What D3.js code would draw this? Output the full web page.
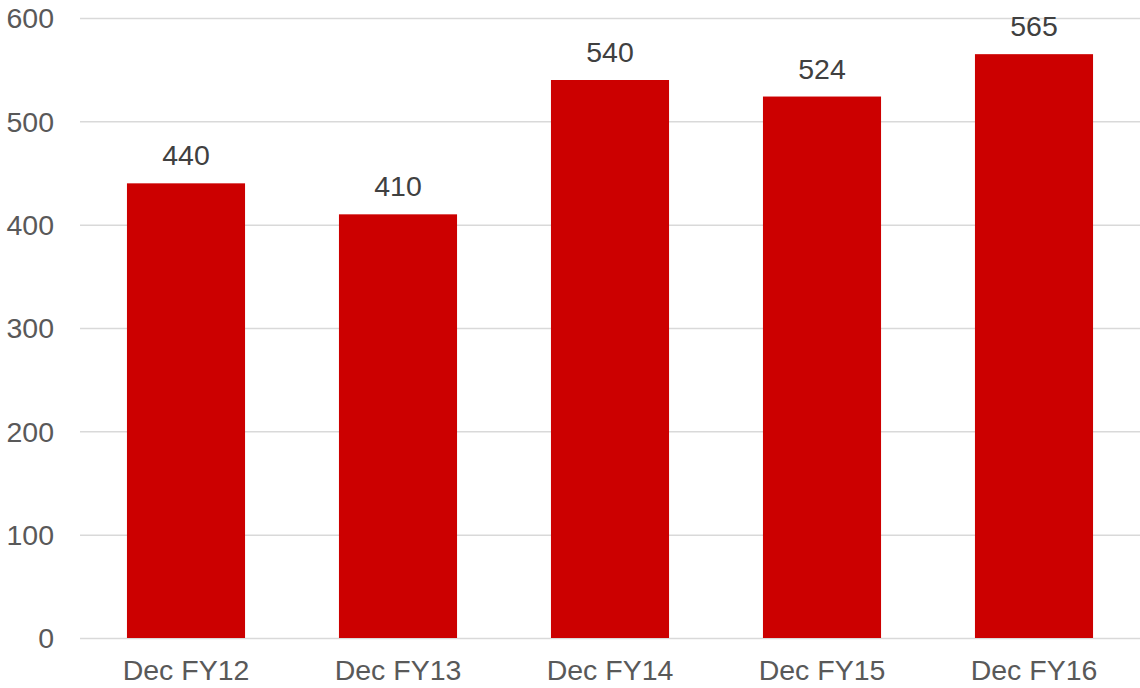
<!DOCTYPE html>
<html>
<head>
<meta charset="utf-8">
<script src="https://cdn.jsdelivr.net/npm/d3@7"></script>
<style>
  body { margin: 0; background: #fff; }
  text { font-family: "Liberation Sans", Arial, sans-serif; }
</style>
</head>
<body>
<div id="chart"></div>
<script>
// data
var categories = ["Dec FY12", "Dec FY13", "Dec FY14", "Dec FY15", "Dec FY16"];
var values = [440, 410, 540, 524, 565];
var yTicks = [0, 100, 200, 300, 400, 500, 600];

// set the dimensions and margins of the graph
var margin = {top: 18, right: 0, bottom: 50, left: 80},
    width = 1140 - margin.left - margin.right,
    height = 688 - margin.top - margin.bottom;

var svG = d3.select("#chart")
  .append("svg")
    .attr("width", width + margin.left + margin.right)
    .attr("height", height + margin.top + margin.bottom)
  .append("g")
    .attr("transform", "translate(" + margin.left + "," + margin.top + ")");

var xScale = d3.scaleBand()
    .domain(categories)
    .range([0, width])
    .paddingInner(0.443)
    .paddingOuter(0.2215);

var yScale = d3.scaleLinear()
    .domain([0, 600])
    .range([height, 0]);

// gridlines + y labels
var y_axis = d3.axisLeft(yScale)
  .tickValues(yTicks)
  .tickSizeInner(-width)
  .tickSizeOuter(0)
  .tickPadding(26);

var yg = svG.append("g").call(y_axis);
yg.select(".domain").remove();
yg.selectAll(".tick line").attr("stroke", "#d9d9d9").attr("stroke-width", 1.5);
yg.selectAll(".tick text")
  .attr("fill", "#595959")
  .style("font-size", "28.5px")
  .attr("dy", "0.35em");

// x axis labels
var x_axis = d3.axisBottom(xScale).tickSize(0).tickPadding(22);
var xg = svG.append("g")
  .attr("transform", "translate(0," + height + ")")
  .call(x_axis);
xg.select(".domain").remove();
xg.selectAll(".tick text")
  .attr("fill", "#595959")
  .style("font-size", "28.5px")
  .attr("dy", "0.71em");

// bars
svG.selectAll(".bar")
  .data(values)
  .enter()
  .append("rect")
    .attr("class", "bar")
    .attr("x", function(d, i){ return xScale(categories[i]) })
    .attr("y", function(d){ return yScale(d) })
    .attr("width", xScale.bandwidth())
    .attr("height", function(d){ return height - yScale(d) })
    .attr("fill", "#cc0000");

// value labels
svG.selectAll(".val")
  .data(values)
  .enter()
  .append("text")
    .attr("class", "val")
    .attr("x", function(d, i){ return xScale(categories[i]) + xScale.bandwidth() / 2 })
    .attr("y", function(d){ return yScale(d) - 18 })
    .attr("text-anchor", "middle")
    .attr("fill", "#404040")
    .style("font-size", "28.5px")
    .text(function(d){ return d });
</script>
</body>
</html>
